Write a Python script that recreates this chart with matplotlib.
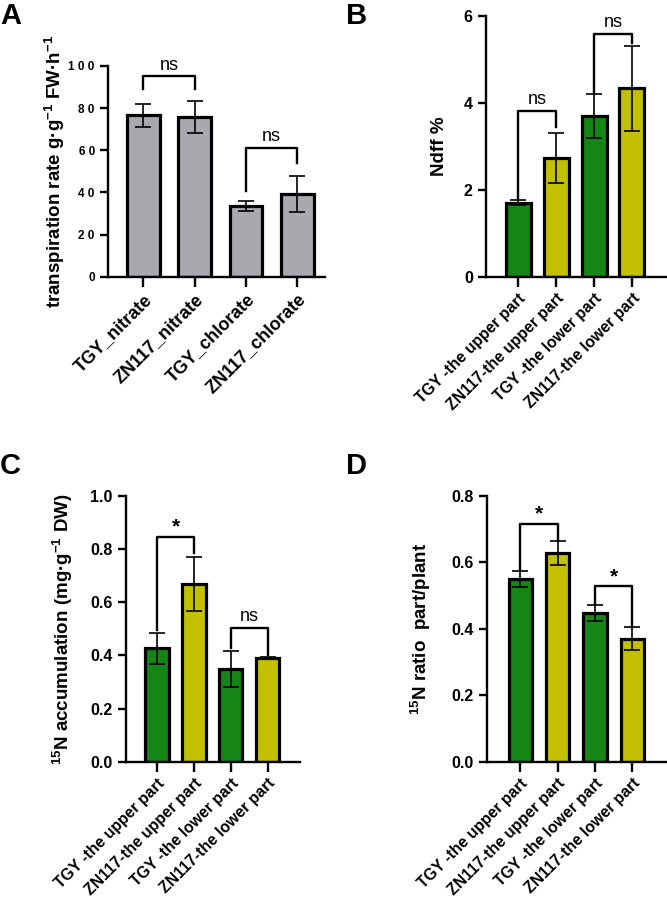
import matplotlib.pyplot as plt

plt.rcParams['font.family'] = ['Liberation Sans', 'DejaVu Sans']
plt.rcParams['font.weight'] = 'bold'
plt.rcParams['mathtext.fontset'] = 'custom'
plt.rcParams['mathtext.rm'] = 'Liberation Sans:bold'
plt.rcParams['mathtext.bf'] = 'Liberation Sans:bold'
plt.rcParams['mathtext.default'] = 'bf'

# data
labels_a = ['TGY_nitrate', 'ZN117_nitrate', 'TGY_chlorate', 'ZN117_chlorate']
trans_mean = [76.6, 75.7, 33.4, 39.2]
trans_err = [5.4, 7.5, 2.4, 8.6]

labels_part = ['TGY -the upper part', 'ZN117-the upper part',
               'TGY -the lower part', 'ZN117-the lower part']
ndff_mean = [1.70, 2.73, 3.69, 4.33]
ndff_err = [0.06, 0.57, 0.50, 0.98]
acc_mean = [0.427, 0.669, 0.348, 0.390]
acc_err = [0.058, 0.102, 0.068, 0.004]
ratio_mean = [0.550, 0.627, 0.447, 0.370]
ratio_err = [0.023, 0.036, 0.024, 0.035]

# significance brackets: (left bar, right bar, top, left leg end, right leg end, text)
sig_a = [(0, 1, 95, 89, 89, 'ns'), (2, 3, 61.2, 40.8, 53.8, 'ns')]
sig_b = [(0, 1, 3.81, 1.81, 3.45, 'ns'), (2, 3, 5.57, 4.22, 5.37, 'ns')]
sig_c = [(0, 1, 0.847, 0.496, 0.784, '*'), (2, 3, 0.502, 0.429, 0.401, 'ns')]
sig_d = [(0, 1, 0.716, 0.577, 0.663, '*'), (2, 3, 0.529, 0.474, 0.407, '*')]

gray = '#a8a8ae'
green = '#158515'
olive = '#c2c000'

fig = plt.figure(figsize=(6.67, 8.99), dpi=100)


def panel(rect, means, errs, colors, xlabels, ylim, yticks, yticklabels,
          ylabel, xlim, width, sigs, letter, letter_pos, label_x,
          xfs=11.3, yfs=11.5):
    ax = fig.add_axes(rect)
    x = list(range(len(means)))
    ax.bar(x, means, width=width, color=colors, edgecolor='black',
           linewidth=2.3, zorder=2)
    ax.errorbar(x, means, yerr=errs, fmt='none', ecolor='black',
                elinewidth=1.2, capsize=6, capthick=1.2, zorder=3)
    ax.set_xlim(*xlim)
    ax.set_ylim(*ylim)
    ax.set_yticks(yticks)
    ax.set_yticklabels(yticklabels, fontsize=yfs, fontweight='bold')
    ax.set_xticks(x)
    ax.set_xticklabels(xlabels, rotation=45, ha='right', rotation_mode='anchor',
                       fontsize=xfs, fontweight='bold')
    ax.set_ylabel(ylabel, fontsize=13.5, fontweight='bold')
    ax.yaxis.set_label_coords(label_x, 0.5)
    for s in ['top', 'right']:
        ax.spines[s].set_visible(False)
    for s in ['left', 'bottom']:
        ax.spines[s].set_linewidth(1.7)
    ax.tick_params(axis='both', width=1.7, length=6)
    ax.tick_params(axis='x', length=7, pad=3)
    for i, j, top, yl, yr, txt in sigs:
        ax.plot([i, i, j, j], [yl, top, top, yr], color='black', lw=1.7,
                clip_on=False, zorder=4)
        if txt == '*':
            ax.text((i + j) / 2, top, txt, ha='center', va='bottom',
                    fontsize=15, fontweight='bold')
        else:
            ax.text((i + j) / 2, top + (ylim[1] - ylim[0]) * 0.012, txt,
                    ha='center', va='bottom', fontsize=13, fontweight='normal')
    fig.text(letter_pos[0], letter_pos[1], letter, fontsize=21,
             fontweight='bold', ha='left', va='top')
    return ax


ticks_a = [0, 20, 40, 60, 80, 100]
panel([0.162, 0.692, 0.325, 0.2347], trans_mean, trans_err, [gray] * 4,
      labels_a, (0, 100), ticks_a,
      [' '.join(str(t)) for t in ticks_a],
      'transpiration rate g·g$^{-1}$ FW·h$^{-1}$',
      (-0.69, 3.54), 0.64, sig_a, 'A', (0.0, 0.998), -0.19,
      xfs=13, yfs=8.5)

colors_part = [green, olive, green, olive]
panel([0.7286, 0.692, 0.27, 0.2906], ndff_mean, ndff_err, colors_part,
      labels_part, (0, 6), [0, 2, 4, 6], ['0', '2', '4', '6'],
      'Ndff %', (-0.855, 3.9), 0.66, sig_b, 'B', (0.518, 0.998), -0.211)

panel([0.189, 0.1527, 0.261, 0.2956], acc_mean, acc_err, colors_part,
      labels_part, (0, 1.0), [0, 0.2, 0.4, 0.6, 0.8, 1.0],
      ['0.0', '0.2', '0.4', '0.6', '0.8', '1.0'],
      '$^{15}$N accumulation (mg·g$^{-1}$ DW)',
      (-0.84, 3.88), 0.63, sig_c, 'C', (0.0, 0.497), -0.293)

panel([0.730, 0.1527, 0.268, 0.2956], ratio_mean, ratio_err, colors_part,
      labels_part, (0, 0.8), [0, 0.2, 0.4, 0.6, 0.8],
      ['0.0', '0.2', '0.4', '0.6', '0.8'],
      '$^{15}$N ratio  part/plant',
      (-0.89, 3.89), 0.62, sig_d, 'D', (0.518, 0.497), -0.302)

fig.savefig('out.png', dpi=100)
